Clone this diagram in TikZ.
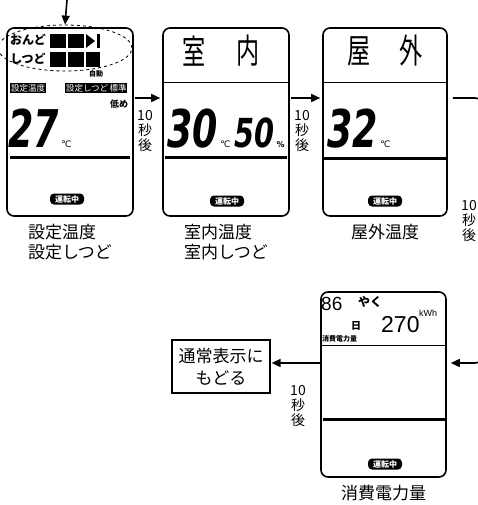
\documentclass[tikz,border=0pt]{standalone}
\usepackage{fontspec}
\setmainfont{Noto Sans CJK JP}
\newfontfamily\segfont{DejaVu Sans}
\newfontfamily\latinfont{Liberation Sans}
\usetikzlibrary{arrows.meta, positioning, calc, shapes.geometric}

\begin{document}
\begin{tikzpicture}[x=1pt, y=-1pt,
    panel/.style={draw, rounded corners=7pt, line width=1.6pt, minimum width=126pt, minimum height=188pt, inner sep=0pt},
    caption/.style={font=\fontsize{17}{20}\selectfont, align=left, inner sep=0pt},
    wait/.style={font=\fontsize{14}{15}\selectfont, align=center, inner sep=0pt},
    badge/.style={fill=black, text=white, rounded corners=4pt, font=\fontsize{8}{8}\selectfont\bfseries, inner sep=1pt, minimum width=34pt, minimum height=11pt},
    inv/.style={fill=black, text=white, font=\fontsize{8.5}{8.5}\selectfont, inner sep=0.6pt},
    lcdtitle/.style={font=\fontsize{34}{34}\selectfont, inner sep=0pt},
    digits/.style={font=\fontsize{#1}{#1}\segfont\bfseries\itshape, inner sep=0pt, anchor=base west},
    small/.style={font=\fontsize{#1}{#1}\selectfont\bfseries, inner sep=0pt},
    unitmark/.style={font=\fontsize{9}{9}\segfont, inner sep=0pt, anchor=base west},
    flow/.style={-{Triangle[length=9pt,width=8pt]}, line width=1.6pt},
    bar/.style={line width=3pt}
]
\useasboundingbox (0,0) rectangle (477,505);

% Panels (top row)
\node[panel] (p1) at (70,122) {};
\node[panel] (p2) at (226,122) {};
\node[panel, minimum width=124pt] (p3) at (385,122) {};
% Panel (bottom)
\node[panel, minimum width=125pt, minimum height=185pt] (p4) at (383.5,384.5) {};

% Panel 1: setting
\node[draw, dashed, thick, ellipse, minimum width=134pt, minimum height=46pt, inner sep=0pt] (segs) at (65,48) {};
\coordinate (pointer) at (67,0);
\draw[flow] (pointer) -- (segs.north);
\node[small=12] (temp) at (28,40) {おんど};
\node[small=12] (humid) at (28,59) {しつど};
\foreach \y/\h in {34/14, 52/15} {
  \fill (50,\y) rectangle ++(16,\h);
  \fill (68,\y) rectangle ++(16,\h);
}
\fill (86,34) -- (95,41) -- (86,48) -- cycle;
\fill (97,34) rectangle (100,48);
\fill (86,52) rectangle (100,67);
\node[small=7] (auto) at (96,74) {自動};
\node[inv] (lset) at (28,88) {設定温度};
\node[inv] (lhum) at (87,88) {設定しつど};
\node[inv] (lstd) at (118,88) {標準};
\node[small=9] (low) at (119,104) {低め};
\node[digits=52] (d27) at (8,147) {\scalebox{0.7}[1]{27}};
\node[unitmark] (c27) at ($(d27.base east)+(2,0)$) {℃};
\draw[bar] (10,157) -- (130,157);
\node[badge] (run1) at (67,199) {運転中};
\node[caption, below=7pt of p1] (cap1) {設定温度\\設定しつど};

% Panel 2: indoor
\node[lcdtitle] (t2a) at (194,51) {\scalebox{0.68}[1]{室}};
\node[lcdtitle] (t2b) at (248,51) {\scalebox{0.68}[1]{内}};
\draw[line width=1pt] ($(p2.north west)+(0,55)$) -- ($(p2.north east)+(0,55)$);
\node[digits=52] (d30) at (167,148) {\scalebox{0.7}[1]{30}};
\node[unitmark] (c30) at ($(d30.base east)+(2,0)$) {℃};
\node[digits=40] (d50) at (234,148) {\scalebox{0.72}[1]{50}};
\node[font=\fontsize{8}{8}\segfont\bfseries, inner sep=0pt, anchor=base west] (pc) at ($(d50.base east)+(2,0)$) {\%};
\draw[bar] (165,157) -- (287,157);
\node[badge] (run2) at (227,201) {運転中};
\node[caption, below=7pt of p2] (cap2) {室内温度\\室内しつど};

% Panel 3: outdoor
\node[lcdtitle] (t3a) at (359,51) {\scalebox{0.68}[1]{屋}};
\node[lcdtitle] (t3b) at (411,51) {\scalebox{0.68}[1]{外}};
\draw[line width=1pt] ($(p3.north west)+(0,55)$) -- ($(p3.north east)+(0,55)$);
\node[digits=52] (d32) at (327,148) {\scalebox{0.7}[1]{32}};
\node[unitmark] (c32) at ($(d32.base east)+(2,0)$) {℃};
\draw[bar] (324,158) -- (446,158);
\node[badge] (run3) at (385,201) {運転中};
\node[caption, below=7pt of p3] (cap3) {屋外温度};

% Panel 4: energy
\node[font=\fontsize{19}{19}\latinfont, inner sep=0pt, anchor=base west] (days) at (321,310) {86};
\node[small=12] (approx) at (370,302) {やく};
\node[small=10] (day) at (356,326) {日};
\node[font=\fontsize{23}{23}\latinfont, inner sep=0pt, anchor=base west] (kwh) at (381,332) {270};
\node[font=\fontsize{9}{9}\latinfont, inner sep=0pt] (unit) at (428,313) {kWh};
\node[small=7, anchor=west] (elabel) at (322,339) {消費電力量};
\draw[line width=1pt] ($(p4.north west)+(0,54)$) -- ($(p4.north east)+(0,54)$);
\draw[bar] (323,419) -- (445,419);
\node[badge] (run4) at (385,464) {運転中};
\node[caption, below=7pt of p4] (cap4) {消費電力量};

% Return box
\node[draw, line width=1.2pt, font=\fontsize{17}{22}\selectfont, align=center, minimum width=98pt, minimum height=53pt, inner sep=0pt] (back) at (221,366.5) {通常表示に\\もどる};

% Arrows between panels
\draw[flow, shorten >=2pt] ([xshift=1pt, yshift=24pt]p1.east) -- ([yshift=24pt]p2.west);
\draw[flow, shorten >=2pt] ([xshift=1pt, yshift=24pt]p2.east) -- ([yshift=24pt]p3.west);
\coordinate (turnA) at (484,98);
\coordinate (turnB) at (484,363);
\draw[flow, rounded corners=9pt, shorten >=4pt] ([xshift=5pt, yshift=24pt]p3.east) -- (turnA) -- (turnB) -- ([yshift=21.5pt]p4.east);
\draw[flow, shorten >=1pt] ([yshift=21.5pt]p4.west) -- ([yshift=21.5pt]p4.west -| back.east);

% Waiting labels
\node[wait] (w1) at (145,131) {10\\秒\\後};
\node[wait] (w2) at (302,131) {10\\秒\\後};
\node[wait] (w3) at (469,221) {10\\秒\\後};
\node[wait] (w4) at (298,406) {10\\秒\\後};

\end{tikzpicture}
\end{document}
